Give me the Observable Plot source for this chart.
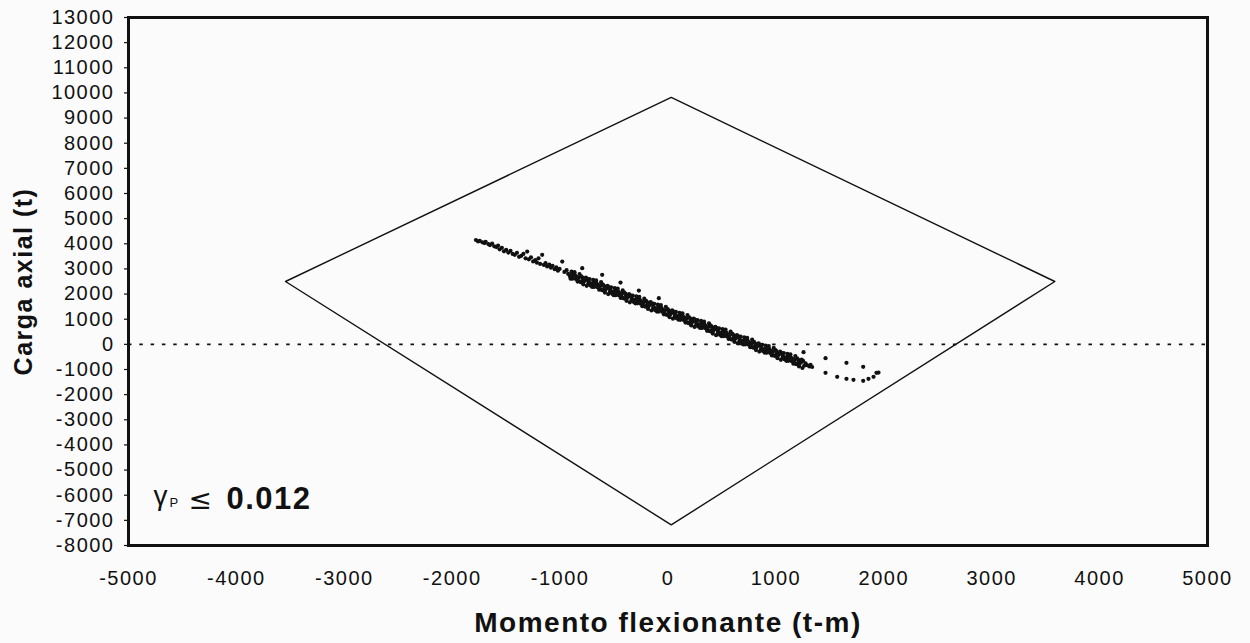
<!DOCTYPE html>
<html>
<head>
<meta charset="utf-8">
<script src="https://cdn.jsdelivr.net/npm/d3@7"></script>
<script src="https://cdn.jsdelivr.net/npm/@observablehq/plot@0.6"></script>
<style>
  html, body { margin: 0; padding: 0; background: #fbfbfb; }
</style>
</head>
<body>
<div id="chart"></div>
<script>
// Axis ticks
const ticksX = [-5000, -4000, -3000, -2000, -1000, 0, 1000, 2000, 3000, 4000, 5000];
const ticksY = [-8000, -7000, -6000, -5000, -4000, -3000, -2000, -1000, 0, 1000, 2000, 3000,
                4000, 5000, 6000, 7000, 8000, 9000, 10000, 11000, 12000, 13000];

// Interaction diagram (diamond) vertices: momento (t-m), carga (t)
const momentoDiagrama = [30, 3585, 30, -3545, 30];
const cargaDiagrama = [9820, 2500, -7180, 2500, 9820];

// Text labels
const tituloX = "Momento flexionante (t-m)";
const tituloY = "Carga axial (t)";
const etiquetaGamma = "γ";
const etiquetaSub = "P";
const etiquetaLeq = "≤";
const etiquetaValor = "0.012";

// Scatter points [momento, carga]
const puntosDispersos = [
  [-1780,4150],[-1760,4090],[-1745,4120],[-1720,4060],[-1700,4030],[-1690,4080],[-1665,3990],[-1650,3950],
  [-1630,4010],[-1610,3900],[-1590,3870],[-1575,3930],[-1560,3780],[-1540,3840],[-1520,3700],[-1500,3760],
  [-1480,3650],[-1460,3720],[-1440,3600],[-1420,3560],[-1400,3640],[-1380,3480],[-1360,3520],[-1340,3600],
  [-1320,3420],[-1305,3690],[-1290,3380],[-1270,3460],[-1250,3300],[-1230,3350],[-1215,3250],[-1200,3420],
  [-1185,3200],[-1166,3560],[-1150,3160],[-1135,3230],[-1120,3100],[-1100,3170],[-1085,3050],[-1070,3120],
  [-1050,2990],[-1035,3060],[-1020,2930],[-1005,3000],[-980,3293],[-960,2880],[-940,2950],[-925,2800],
  [-795,3031],[-610,2765],[-440,2458],[-270,2140],[-85,1838]
];

const puntosBanda = [
  [-894,2891],[-908,2701],[-889,2801],[-903,2611],[-885,2610],[-871,2810],[-881,2690],[-866,2870],
  [-848,2689],[-838,2499],[-861,2749],[-854,2599],[-817,2498],[-827,2658],[-820,2798],[-837,2598],
  [-794,2657],[-808,2477],[-789,2577],[-803,2707],[-785,2387],[-771,2607],[-781,2487],[-766,2557],
  [-748,2606],[-738,2416],[-761,2656],[-754,2326],[-717,2425],[-727,2595],[-720,2345],[-737,2505],
  [-694,2564],[-708,2374],[-689,2474],[-703,2284],[-685,2283],[-671,2483],[-681,2363],[-666,2543],
  [-648,2362],[-638,2172],[-661,2422],[-654,2272],[-617,2172],[-627,2332],[-620,2472],[-637,2272],
  [-594,2331],[-608,2151],[-589,2251],[-603,2381],[-585,2060],[-571,2280],[-581,2160],[-566,2230],
  [-548,2279],[-538,2089],[-561,2329],[-554,1999],[-517,2098],[-527,2268],[-520,2018],[-537,2178],
  [-494,2238],[-508,2048],[-489,2148],[-503,1958],[-485,1957],[-471,2157],[-481,2037],[-466,2217],
  [-448,2036],[-438,1846],[-461,2096],[-454,1946],[-417,1845],[-427,2005],[-420,2145],[-437,1945],
  [-394,2004],[-408,1824],[-389,1924],[-403,2054],[-385,1733],[-371,1953],[-381,1833],[-366,1903],
  [-348,1953],[-338,1763],[-361,2003],[-354,1673],[-317,1772],[-327,1942],[-320,1692],[-337,1852],
  [-294,1911],[-308,1721],[-289,1821],[-303,1631],[-285,1630],[-271,1830],[-281,1710],[-266,1890],
  [-248,1709],[-238,1519],[-261,1769],[-254,1619],[-217,1518],[-227,1678],[-220,1818],[-237,1618],
  [-194,1678],[-208,1498],[-189,1598],[-203,1728],[-185,1407],[-171,1627],[-181,1507],[-166,1577],
  [-148,1626],[-138,1436],[-161,1676],[-154,1346],[-117,1445],[-127,1615],[-120,1365],[-137,1525],
  [-94,1584],[-108,1394],[-89,1494],[-103,1304],[-85,1303],[-71,1503],[-81,1383],[-66,1563],
  [-48,1383],[-38,1193],[-61,1443],[-54,1293],[-17,1192],[-27,1352],[-20,1492],[-37,1292],
  [6,1351],[-8,1171],[11,1271],[-3,1401],[15,1080],[29,1300],[19,1180],[34,1250],
  [52,1299],[62,1109],[39,1349],[46,1019],[83,1119],[73,1289],[80,1039],[63,1199],
  [106,1258],[92,1068],[111,1168],[97,978],[115,977],[129,1177],[119,1057],[134,1237],
  [152,1056],[162,866],[139,1116],[146,966],[183,865],[173,1025],[180,1165],[163,965],
  [206,1024],[192,844],[211,944],[197,1074],[215,754],[229,974],[219,854],[234,924],
  [252,973],[262,783],[239,1023],[246,693],[283,792],[273,962],[280,712],[263,872],
  [306,931],[292,741],[311,841],[297,651],[315,650],[329,850],[319,730],[334,910],
  [352,730],[362,540],[339,790],[346,640],[383,539],[373,699],[380,839],[363,639],
  [406,698],[392,518],[411,618],[397,748],[415,427],[429,647],[419,527],[434,597],
  [452,646],[462,456],[439,696],[446,366],[483,466],[473,636],[480,386],[463,546],
  [506,605],[492,415],[511,515],[497,325],[515,324],[529,524],[519,404],[534,584],
  [552,403],[562,213],[539,463],[546,313],[583,212],[573,372],[580,512],[563,312],
  [606,371],[592,191],[611,291],[597,421],[615,101],[629,321],[619,201],[634,271],
  [652,320],[662,130],[639,370],[646,40],[683,139],[673,309],[680,59],[663,219],
  [706,278],[692,88],[711,188],[697,-2],[715,-3],[729,197],[719,77],[734,257],
  [752,76],[762,-114],[739,136],[746,-14],[783,-114],[773,46],[780,186],[763,-14],
  [806,45],[792,-135],[811,-35],[797,95],[815,-226],[829,-6],[819,-126],[834,-56],
  [852,-7],[862,-197],[839,43],[846,-287],[883,-188],[873,-18],[880,-268],[863,-108],
  [906,-49],[892,-239],[911,-139],[897,-329],[915,-330],[929,-130],[919,-250],[934,-70],
  [952,-250],[962,-440],[939,-190],[946,-340],[983,-441],[973,-281],[980,-141],[963,-341],
  [1006,-282],[992,-462],[1011,-362],[997,-232],[1015,-553],[1029,-333],[1019,-453],[1034,-383],
  [1052,-334],[1062,-524],[1039,-284],[1046,-614],[1083,-514],[1073,-344],[1080,-594],[1063,-434],
  [1106,-375],[1092,-565],[1111,-465],[1097,-655],[1115,-656],[1129,-456],[1119,-576],[1134,-396],
  [1152,-577],[1162,-767],[1139,-517],[1146,-667],[1183,-768],[1173,-608],[1180,-468],[1163,-668],
  [1206,-609],[1192,-789],[1211,-689],[1197,-559],[1215,-879],[1229,-659],[1219,-779],[1234,-709],
  [1252,-660],[1262,-850],[1239,-610],[1246,-940],[1275,-760],[1290,-830],[1310,-880],[1321,-815],
  [1336,-900]
];

const puntosCola = [
  [1256,-310],[1460,-549],[1654,-736],[1809,-895],[1460,-1134],[1568,-1293],[1654,-1372],
  [1719,-1412],[1809,-1452],[1858,-1372],[1905,-1293],[1932,-1134],[1951,-1122]
];

const puntos = [...puntosDispersos, ...puntosBanda, ...puntosCola];
const diagrama = momentoDiagrama.map((m, i) => ({m, c: cargaDiagrama[i]}));

const fmt = d => String(d);

const chart = Plot.plot({
  width: 1250,
  height: 643,
  marginLeft: 128,
  marginRight: 43,
  marginTop: 17,
  marginBottom: 98,
  style: "font-family: 'Liberation Sans', Arial, sans-serif; font-size: 20px; letter-spacing: 1.5px; background: #fbfbfb; color: #111;",
  x: {domain: [-5000, 5000]},
  y: {domain: [-8000, 13000]},
  marks: [
    Plot.ruleY([0], {stroke: "#111", strokeWidth: 1.6, strokeDasharray: "3.5,7.8"}),
    Plot.line(diagrama, {x: "m", y: "c", stroke: "#111", strokeWidth: 1.4}),
    Plot.dot(puntos, {x: d => d[0], y: d => d[1], r: 2.1, fill: "#111", stroke: "none"}),
    Plot.axisX({ticks: ticksX, tickSize: 0, tickPadding: 25, tickFormat: fmt, label: null, fontSize: 20}),
    Plot.axisY({ticks: ticksY, tickSize: 4, tickPadding: 10, tickFormat: fmt, label: null, fontSize: 20, strokeWidth: 1.2}),
    Plot.frame({stroke: "#111", strokeWidth: 3}),
    Plot.text([tituloX], {text: d => d, frameAnchor: "bottom", dy: 86, fontSize: 28, fontWeight: "bold"}),
    Plot.text([tituloY], {text: d => d, frameAnchor: "left", textAnchor: "middle", dx: -105, rotate: -90, fontSize: 25, fontWeight: "bold"}),
    Plot.text([etiquetaGamma], {text: d => d, x: -4768, y: -6384, textAnchor: "start", lineAnchor: "bottom", fontSize: 28, fontFamily: "Liberation Sans"}),
    Plot.text([etiquetaSub], {text: d => d, x: -4620, y: -6464, textAnchor: "start", lineAnchor: "bottom", fontSize: 13}),
    Plot.text([etiquetaLeq], {text: d => d, x: -4444, y: -6543, textAnchor: "start", lineAnchor: "bottom", fontSize: 28, fontFamily: "DejaVu Sans"}),
    Plot.text([etiquetaValor], {text: d => d, x: -4092, y: -6543, textAnchor: "start", lineAnchor: "bottom", fontSize: 31, fontWeight: "bold"})
  ]
});

document.getElementById("chart").appendChild(chart);
</script>
</body>
</html>
